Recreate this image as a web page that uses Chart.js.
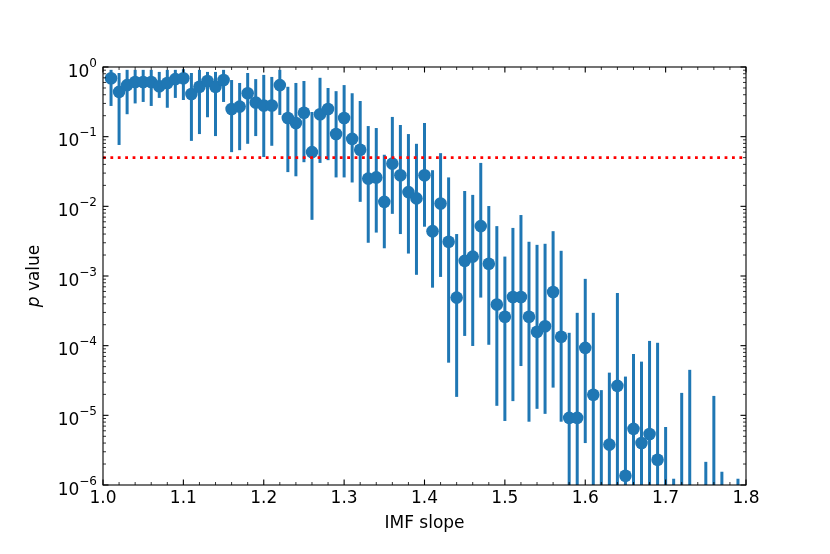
<!DOCTYPE html>
<html>
<head>
<meta charset="utf-8">
<script src="https://cdn.jsdelivr.net/npm/chart.js@4.4.0/dist/chart.umd.min.js"></script>
<style>
  html, body { margin: 0; padding: 0; background: #fff; }
</style>
</head>
<body>
<canvas id="chart" width="830" height="554"></canvas>
<script>
// IMF slope values (x)
const slopes = [
  1.01, 1.02, 1.03, 1.04, 1.05, 1.06, 1.07, 1.08, 1.09, 1.10,
  1.11, 1.12, 1.13, 1.14, 1.15, 1.16, 1.17, 1.18, 1.19, 1.20,
  1.21, 1.22, 1.23, 1.24, 1.25, 1.26, 1.27, 1.28, 1.29, 1.30,
  1.31, 1.32, 1.33, 1.34, 1.35, 1.36, 1.37, 1.38, 1.39, 1.40,
  1.41, 1.42, 1.43, 1.44, 1.45, 1.46, 1.47, 1.48, 1.49, 1.50,
  1.51, 1.52, 1.53, 1.54, 1.55, 1.56, 1.57, 1.58, 1.59, 1.60,
  1.61, 1.62, 1.63, 1.64, 1.65, 1.66, 1.67, 1.68, 1.69, 1.70,
  1.71, 1.72, 1.73, 1.74, 1.75, 1.76, 1.77, 1.78, 1.79
];

// p value (null = below the plotted range)
const pValue = [
  0.69, 0.44, 0.55, 0.61, 0.61, 0.61, 0.53, 0.59, 0.67, 0.69,
  0.41, 0.52, 0.63, 0.52, 0.65, 0.25, 0.27, 0.42, 0.31, 0.28,
  0.28, 0.55, 0.185, 0.157, 0.22, 0.060, 0.21, 0.25, 0.109, 0.185,
  0.093, 0.065, 0.025, 0.026, 0.0116, 0.041, 0.028, 0.016, 0.013, 0.028,
  0.0044, 0.011, 0.0031, 0.00049, 0.00165, 0.0019, 0.0052, 0.0015, 0.00039, 0.00026,
  0.00050, 0.00050, 0.00026, 0.000158, 0.00019, 0.00059, 0.000134, 9.2e-6, 9.2e-6, 9.3e-5,
  1.97e-5, null, 3.8e-6, 2.65e-5, 1.36e-6, 6.4e-6, 4.0e-6, 5.4e-6, 2.3e-6, null,
  null, null, null, null, null, null, null, null, null
];

// upper end of the error bar
const pUpper = [
  0.91, 0.82, 0.91, 0.91, 0.91, 0.91, 0.85, 0.91, 0.91, 0.93,
  0.82, 0.91, 0.85, 0.85, 0.91, 0.65, 0.59, 0.82, 0.67, 0.77,
  0.72, 0.91, 0.52, 0.59, 0.63, 0.226, 0.70, 0.50, 0.45, 0.55,
  0.42, 0.325, 0.142, 0.133, 0.055, 0.192, 0.147, 0.109, 0.079, 0.157,
  0.033, 0.058, 0.026, 0.0040, 0.0166, 0.0146, 0.042, 0.0101, 0.0052, 0.0019,
  0.0049, 0.0075, 0.0031, 0.0028, 0.0029, 0.0044, 0.0023, 0.000153, 0.000296, 0.00091,
  0.000296, 2.3e-5, 4.1e-5, 0.00057, 3.6e-5, 7.6e-5, 5.9e-5, 0.000117, 0.00011, 6.8e-6,
  1.23e-6, 2.1e-5, 4.5e-5, null, 2.15e-6, 1.9e-5, 1.55e-6, null, 1.23e-6
];

// lower end of the error bar
const pLower = [
  0.276, 0.076, 0.21, 0.30, 0.315, 0.276, 0.36, 0.26, 0.36, 0.336,
  0.087, 0.109, 0.19, 0.102, 0.315, 0.060, 0.064, 0.079, 0.102, 0.051,
  0.074, 0.205, 0.031, 0.027, 0.043, 0.0064, 0.042, 0.046, 0.026, 0.026,
  0.022, 0.0116, 0.0030, 0.0042, 0.0025, 0.0078, 0.0040, 0.0021, 0.00104, 0.0051,
  0.00068, 0.00097, 5.7e-5, 1.84e-5, 0.000138, 9.9e-5, 0.00049, 0.000103, 1.37e-5, 8.3e-6,
  1.6e-5, 5.1e-5, 8.1e-6, 1.24e-5, 1.05e-5, 2.5e-5, 8.1e-6, 1e-7, 1e-7, 4.0e-6,
  1e-7, 1e-7, 1e-7, 1e-7, 1e-7, 1e-7, 1e-7, 1e-7, 1e-7, 1e-7,
  1e-7, 1e-7, 1e-7, null, 1e-7, 1e-7, 1e-7, null, 1e-7
];

const threshold = 0.05;
const xTicks = [1.0, 1.1, 1.2, 1.3, 1.4, 1.5, 1.6, 1.7, 1.8];
const yTicks = [1e-6, 1e-5, 1e-4, 1e-3, 1e-2, 1e-1, 1];

const BLUE = '#1f77b4';
const FONT = '"DejaVu Sans", sans-serif';
const FS = 17;

// error bars, frame, inward ticks, y labels and axis titles
const decor = {
  id: 'decor',
  beforeDatasetsDraw(chart) {
    const { ctx, chartArea: a, scales: { x, y } } = chart;
    ctx.save();
    ctx.beginPath();
    ctx.rect(a.left, a.top, a.right - a.left, a.bottom - a.top);
    ctx.clip();
    ctx.strokeStyle = BLUE;
    ctx.lineWidth = 3;
    slopes.forEach((s, i) => {
      if (pUpper[i] == null) return;
      const px = x.getPixelForValue(s);
      ctx.beginPath();
      ctx.moveTo(px, y.getPixelForValue(pLower[i]));
      ctx.lineTo(px, y.getPixelForValue(pUpper[i]));
      ctx.stroke();
    });
    ctx.restore();
  },
  afterDraw(chart) {
    const { ctx, chartArea: a, scales: { x, y } } = chart;
    ctx.save();
    ctx.strokeStyle = '#000';
    ctx.lineWidth = 1.1;
    ctx.strokeRect(a.left, a.top, a.right - a.left, a.bottom - a.top);

    const tick = (x1, y1, x2, y2) => { ctx.beginPath(); ctx.moveTo(x1, y1); ctx.lineTo(x2, y2); ctx.stroke(); };
    // x ticks
    xTicks.forEach(v => {
      const px = x.getPixelForValue(v);
      tick(px, a.bottom, px, a.bottom - 5.5);
      tick(px, a.top, px, a.top + 5.5);
    });
    ctx.lineWidth = 0.8;
    for (let k = 0; k < 40; k++) {
      if (k % 5 === 0) continue;
      const px = x.getPixelForValue(1 + k * 0.02);
      tick(px, a.bottom, px, a.bottom - 3);
      tick(px, a.top, px, a.top + 3);
    }
    // y ticks
    ctx.lineWidth = 1.1;
    yTicks.forEach(v => {
      const py = y.getPixelForValue(v);
      tick(a.left, py, a.left + 5.5, py);
      tick(a.right, py, a.right - 5.5, py);
    });
    ctx.lineWidth = 0.8;
    for (let d = -6; d < 0; d++) {
      for (let m = 2; m <= 9; m++) {
        const py = y.getPixelForValue(m * Math.pow(10, d));
        tick(a.left, py, a.left + 3, py);
        tick(a.right, py, a.right - 3, py);
      }
    }

    // y tick labels: 10 with a raised exponent
    ctx.fillStyle = '#000';
    ctx.textBaseline = 'alphabetic';
    ctx.textAlign = 'left';
    yTicks.forEach(v => {
      const py = y.getPixelForValue(v);
      const e = Math.round(Math.log10(v));
      const expText = e === 0 ? '0' : '\u2212' + Math.abs(e);
      ctx.font = '12px ' + FONT;
      const ew = ctx.measureText(expText).width;
      ctx.font = FS + 'px ' + FONT;
      const bw = ctx.measureText('10').width;
      const right = a.left - 6;
      ctx.fillText('10', right - ew - bw, py + 9.5);
      ctx.font = '12px ' + FONT;
      ctx.fillText(expText, right - ew, py - 0.5);
    });

    // axis titles
    ctx.textBaseline = 'middle';
    ctx.textAlign = 'center';
    ctx.font = FS + 'px ' + FONT;
    ctx.fillText('IMF slope', (a.left + a.right) / 2, 524);

    ctx.translate(35, (a.top + a.bottom) / 2);
    ctx.rotate(-Math.PI / 2);
    ctx.font = 'italic ' + FS + 'px ' + FONT;
    const pw = ctx.measureText('p').width;
    ctx.font = FS + 'px ' + FONT;
    const rest = ' value';
    const rw = ctx.measureText(rest).width;
    const start = -(pw + rw) / 2;
    ctx.textAlign = 'left';
    ctx.font = 'italic ' + FS + 'px ' + FONT;
    ctx.fillText('p', start, 0);
    ctx.font = FS + 'px ' + FONT;
    ctx.fillText(rest, start + pw, 0);
    ctx.restore();
  }
};

new Chart(document.getElementById('chart'), {
  type: 'scatter',
  data: {
    datasets: [
      {
        label: 'threshold',
        type: 'line',
        data: [{ x: 1.0, y: threshold }, { x: 1.8, y: threshold }],
        borderColor: '#ff0000',
        borderWidth: 2.8,
        borderDash: [2.8, 4.6],
        pointRadius: 0,
        fill: false,
        order: 0
      },
      {
        label: 'p value',
        data: slopes.map((s, i) => ({ x: s, y: pValue[i] })),
        backgroundColor: BLUE,
        borderColor: BLUE,
        borderWidth: 0,
        pointRadius: 6.3,
        order: 1
      }
    ]
  },
  options: {
    responsive: false,
    devicePixelRatio: 1,
    animation: false,
    layout: { padding: { top: 67, right: 84, left: 0, bottom: 0 } },
    plugins: {
      legend: { display: false },
      tooltip: { enabled: false }
    },
    scales: {
      x: {
        type: 'linear',
        min: 1.0,
        max: 1.8,
        grid: { display: false, drawTicks: false },
        border: { display: false },
        afterBuildTicks: s => { s.ticks = xTicks.map(v => ({ value: v })); },
        afterFit: s => { s.height = 69; },
        ticks: {
          autoSkip: false,
          maxRotation: 0,
          padding: 3,
          color: '#000',
          font: { family: FONT, size: FS },
          callback: v => Number(v).toFixed(1)
        }
      },
      y: {
        type: 'logarithmic',
        min: 1e-6,
        max: 1,
        grid: { display: false, drawTicks: false },
        border: { display: false },
        afterBuildTicks: s => { s.ticks = yTicks.map(v => ({ value: v, major: true })); },
        afterFit: s => { s.width = 103; },
        ticks: { display: false }
      }
    }
  },
  plugins: [decor]
});
</script>
</body>
</html>
